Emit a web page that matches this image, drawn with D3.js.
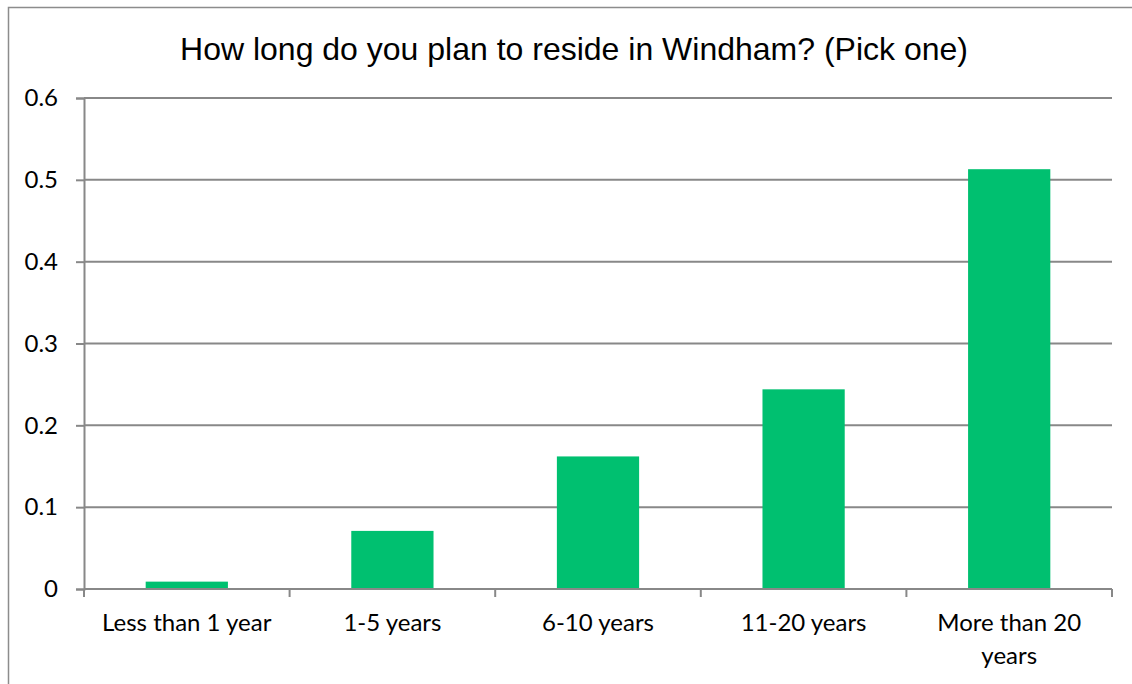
<!DOCTYPE html>
<html>
<head>
<meta charset="utf-8">
<script src="https://cdn.jsdelivr.net/npm/d3@7"></script>
<style>
  body { margin: 0; background: #fff; }
  svg { display: block; }
</style>
</head>
<body>
<div id="chart"></div>
<script>
let categories = ['Less than 1 year', '1-5 years', '6-10 years', '11-20 years', 'More than 20 years'];
let values = [0.009, 0.071, 0.162, 0.244, 0.513];
let y_ticks = [0, 0.1, 0.2, 0.3, 0.4, 0.5, 0.6];
let title = 'How long do you plan to reside in Windham? (Pick one)';

let chart_width = 1132;
let chart_height = 684;
let margin = { top: 98, right: 20, bottom: 95, left: 84 };

let svg = d3.select('#chart')
  .append('svg')
  .attr('width', chart_width)
  .attr('height', chart_height);

// outer frame (runs off the right/bottom edge)
svg.append('rect')
  .attr('x', 8.5).attr('y', 7.5)
  .attr('width', chart_width + 20).attr('height', chart_height + 20)
  .attr('fill', 'none')
  .attr('stroke', '#8c8c8c')
  .attr('stroke-width', 1.5);

// scales
let x_scale = d3.scaleBand()
  .domain(categories)
  .range([margin.left, chart_width - margin.right])
  .paddingInner(0.6)
  .paddingOuter(0.3);

let x_ticks = d3.scalePoint()
  .domain(d3.range(categories.length + 1))
  .range([margin.left, chart_width - margin.right]);

let y_scale = d3.scaleLinear()
  .domain([0, 0.6])
  .range([chart_height - margin.bottom, margin.top]);

// gridlines + y axis
let y_axis = d3.axisLeft(y_scale)
  .tickValues(y_ticks)
  .tickFormat(d => d === 0 ? '0' : d3.format('.1f')(d))
  .tickSize(8)
  .tickPadding(18);

let yg = svg.append('g')
  .attr('transform', 'translate(' + margin.left + ',0)')
  .call(y_axis);
yg.select('.domain').attr('stroke', '#888').attr('stroke-width', 2);
yg.selectAll('.tick line').attr('stroke', '#888').attr('stroke-width', 2);
yg.selectAll('.tick text')
  .attr('font-family', 'Lato, "Open Sans", sans-serif')
  .attr('font-size', 24)
  .attr('fill', '#000');

svg.append('g')
  .selectAll('line')
  .data(y_ticks.filter(d => d > 0))
  .enter()
  .append('line')
  .attr('x1', margin.left)
  .attr('x2', chart_width - margin.right)
  .attr('y1', d => y_scale(d))
  .attr('y2', d => y_scale(d))
  .attr('stroke', '#888')
  .attr('stroke-width', 2);

// bars
svg.append('g')
  .selectAll('rect')
  .data(values)
  .enter()
  .append('rect')
  .attr('x', (d, i) => x_scale(categories[i]))
  .attr('y', d => y_scale(d))
  .attr('width', x_scale.bandwidth())
  .attr('height', d => y_scale(0) - y_scale(d))
  .attr('fill', '#00c070');

// x axis line + category ticks
let base = y_scale(0);
svg.append('line')
  .attr('x1', margin.left).attr('x2', chart_width - margin.right)
  .attr('y1', base).attr('y2', base)
  .attr('stroke', '#888').attr('stroke-width', 2);

svg.append('g')
  .selectAll('line')
  .data(x_ticks.domain())
  .enter()
  .append('line')
  .attr('x1', d => x_ticks(d)).attr('x2', d => x_ticks(d))
  .attr('y1', base).attr('y2', base + 8)
  .attr('stroke', '#888').attr('stroke-width', 2);

// category labels
let wrap = { 'More than 20 years': ['More than 20', 'years'] };
let labels = svg.append('g')
  .selectAll('text')
  .data(categories)
  .enter()
  .append('text')
  .attr('x', d => x_scale(d) + x_scale.bandwidth() / 2)
  .attr('y', base + 42)
  .attr('text-anchor', 'middle')
  .attr('font-family', 'Lato, "Open Sans", sans-serif')
  .attr('font-size', 24)
  .attr('fill', '#000');

labels.each(function(d) {
  let lines = wrap[d] || [d];
  let t = d3.select(this);
  lines.forEach((l, i) => {
    t.append('tspan')
      .attr('x', x_scale(d) + x_scale.bandwidth() / 2)
      .attr('dy', i === 0 ? 0 : 33)
      .text(l);
  });
});

// title
svg.append('text')
  .attr('x', 574)
  .attr('y', 60)
  .attr('text-anchor', 'middle')
  .attr('font-family', '"Liberation Sans", Arial, sans-serif')
  .attr('font-size', 32)
  .attr('fill', '#000')
  .text(title);
</script>
</body>
</html>
